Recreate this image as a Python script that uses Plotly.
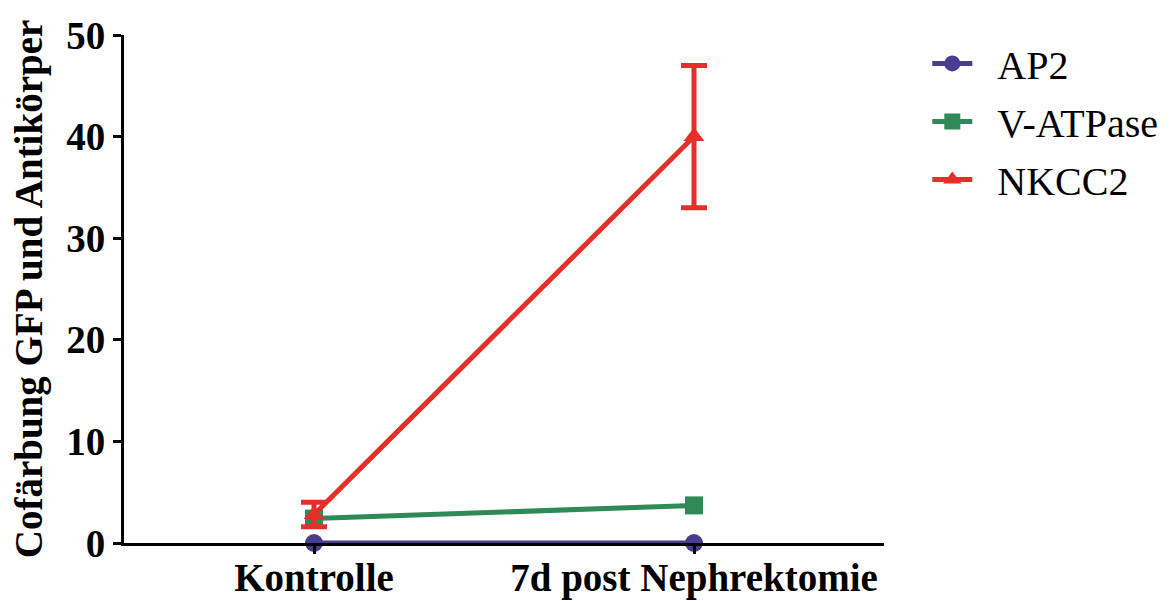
import plotly.graph_objects as go

categories = ["Kontrolle", "7d post Nephrektomie"]
ap2 = [0.0, 0.0]
vatpase = [2.4, 3.7]
nkcc2 = [2.8, 40.0]
nkcc2_err = [1.2, 7.0]

series = [
    ("AP2", ap2, None, "#4a3d8f", "circle"),
    ("V-ATPase", vatpase, None, "#2f8a57", "square"),
    ("NKCC2", nkcc2, nkcc2_err, "#e52f28", "triangle-up"),
]

fig = go.Figure()
for name, vals, err, color, sym in series:
    fig.add_trace(go.Scatter(
        x=categories, y=vals, name="\u00a0\u00a0" + name, legendgroup=name,
        mode="lines+markers",
        line=dict(color=color, width=5),
        marker=dict(symbol=sym, size=18, color=color),
        error_y=dict(type="data", array=err, visible=err is not None,
                     color=color, thickness=5, width=13),
        cliponaxis=False,
    ))

serif = "Liberation Serif"
fig.update_layout(
    width=1175, height=601,
    margin=dict(l=124, r=287, t=35, b=58),
    plot_bgcolor="white", paper_bgcolor="white",
    font=dict(family=serif, color="black"),
    showlegend=True,
    legend=dict(
        x=1.057, y=1.008, xanchor="left", yanchor="top",
        font=dict(size=40, family=serif, color="black"),
        traceorder="grouped", tracegroupgap=3, itemwidth=40,
        bgcolor="rgba(0,0,0,0)",
    ),
    xaxis=dict(
        type="category", range=[-0.5, 1.5], automargin=False,
        showline=True, linecolor="black", linewidth=3,
        ticks="outside", tickwidth=3, ticklen=8, tickcolor="black",
        ticklabelstandoff=-10,
        tickfont=dict(size=39, family=serif, color="black", weight="bold"),
        showgrid=False, zeroline=False,
    ),
    yaxis=dict(
        range=[0, 50], tickvals=[0, 10, 20, 30, 40, 50], automargin=False,
        showline=True, linecolor="black", linewidth=3,
        ticks="outside", tickwidth=3, ticklen=8, tickcolor="black",
        tickfont=dict(size=39, family=serif, color="black", weight="bold"),
        showgrid=False, zeroline=False,
        title=dict(text="<b>Cofärbung GFP und Antikörper</b>",
                   font=dict(size=39, family=serif, color="black"),
                   standoff=12),
    ),
)

fig.write_html("out.html")
